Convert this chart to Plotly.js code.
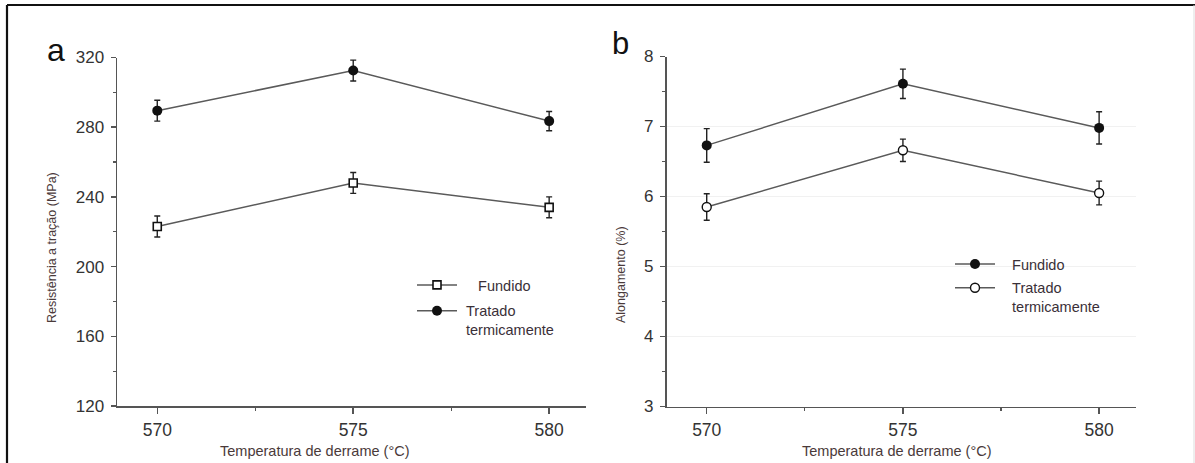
<!DOCTYPE html>
<html>
<head>
<meta charset="utf-8">
<script src="https://cdn.plot.ly/plotly-3.0.1.min.js"></script>
<style>
html,body{margin:0;padding:0;background:#fff;}
#chart{width:1195px;height:463px;}
</style>
</head>
<body>
<div id="chart"></div>
<script>
// ---- data ----
const temps = [570, 575, 580];
const tickVals = [570, 575, 580];
const tickText = ['570', '575', '580'];

// panel a: tensile strength (MPa)
const tensileFundido = [223, 248, 234];
const tensileFundidoErr = [6, 6, 6];
const tensileTratado = [289.5, 312.5, 283.5];
const tensileTratadoErr = [6, 6, 5.5];

// panel b: elongation (%)
const elongFundido = [6.73, 7.61, 6.98];
const elongFundidoErr = [0.24, 0.21, 0.23];
const elongTratado = [5.85, 6.66, 6.05];
const elongTratadoErr = [0.19, 0.16, 0.17];

const NB = '\u00a0';
const namesA = [NB + NB + NB + NB + 'Fundido', NB + 'Tratado<br>' + NB + 'termicamente'];
const namesB = [NB + NB + NB + 'Fundido', NB + NB + NB + 'Tratado<br>' + NB + NB + NB + 'termicamente'];
const xTitle = 'Temperatura de derrame (°C)';
const yTitleA = 'Resistência a tração (MPa)';
const yTitleB = 'Alongamento (%)';

// ---- styling ----
const W = 1195, H = 463;
const FONT = 'Liberation Sans, Arial, sans-serif';
const lineCol = '#5a5a5a';
const markCol = '#111111';
const tickCol = '#333333';
const titleCol = '#4a3a3a';

function errY(arr) {
  return {type: 'data', array: arr, visible: true, color: '#222', thickness: 1.4, width: 3};
}

const traces = [
  {x: temps, y: tensileFundido, error_y: errY(tensileFundidoErr), name: namesA[0],
   xaxis: 'x', yaxis: 'y', mode: 'lines+markers', legend: 'legend', legendgroup: 'a1',
   line: {color: lineCol, width: 1.5},
   marker: {symbol: 'square', size: 8, color: '#fff', line: {color: markCol, width: 1.6}}},
  {x: temps, y: tensileTratado, error_y: errY(tensileTratadoErr), name: namesA[1],
   xaxis: 'x', yaxis: 'y', mode: 'lines+markers', legend: 'legend', legendgroup: 'a2',
   line: {color: lineCol, width: 1.5},
   marker: {symbol: 'circle', size: 10, color: markCol}},
  {x: temps, y: elongFundido, error_y: errY(elongFundidoErr), name: namesB[0],
   xaxis: 'x2', yaxis: 'y2', mode: 'lines+markers', legend: 'legend2', legendgroup: 'b1',
   line: {color: lineCol, width: 1.5},
   marker: {symbol: 'circle', size: 10, color: markCol}},
  {x: temps, y: elongTratado, error_y: errY(elongTratadoErr), name: namesB[1],
   xaxis: 'x2', yaxis: 'y2', mode: 'lines+markers', legend: 'legend2', legendgroup: 'b2',
   line: {color: lineCol, width: 1.5},
   marker: {symbol: 'circle', size: 9, color: '#fff', line: {color: markCol, width: 1.4}}}
];

function px(x) { return x / W; }
function py(y) { return 1 - y / H; }

function xAxis(domain, anchor) {
  return {
    domain: domain, anchor: anchor, range: [568.98, 580.94],
    tickvals: tickVals, ticktext: tickText,
    ticks: 'outside', ticklen: 6, tickwidth: 1.5, tickcolor: '#555',
    showline: true, linecolor: '#555', linewidth: 1.8,
    showgrid: false, zeroline: false,
    tickfont: {family: FONT, size: 17.5, color: tickCol},
    ticklabelstandoff: 1,
    minor: {tickvals: [572.5, 577.5], ticks: 'outside', ticklen: 3, tickcolor: '#555', tickwidth: 1.2, showgrid: false},
    fixedrange: true
  };
}
function yAxis(domain, anchor, range, dtick, minorDtick, grid) {
  return {
    domain: domain, anchor: anchor, range: range, dtick: dtick,
    ticks: 'outside', ticklen: 5, tickwidth: 1.5, tickcolor: '#555',
    showline: true, linecolor: '#555', linewidth: 1.8,
    showgrid: grid, gridcolor: '#f1f1f1', gridwidth: 1, zeroline: false,
    tickfont: {family: FONT, size: 17, color: tickCol},
    ticklabelstandoff: 3,
    minor: {dtick: minorDtick, ticks: 'outside', ticklen: 3, tickcolor: '#555', tickwidth: 1.2, showgrid: false},
    fixedrange: true
  };
}

const legendBase = {
  xanchor: 'left', yanchor: 'top', bgcolor: 'rgba(0,0,0,0)', borderwidth: 0,
  font: {family: FONT, size: 14.5, color: '#3a3038'},
  itemwidth: 40, valign: 'top', traceorder: 'grouped'
};

const layout = {
  width: W, height: H,
  margin: {l: 0, r: 0, t: 0, b: 0},
  paper_bgcolor: '#fff', plot_bgcolor: '#fff',
  showlegend: true,
  xaxis: xAxis([px(117.3), px(586)], 'y'),
  yaxis: yAxis([py(406), py(57.5)], 'x', [120, 320], 40, 20, false),
  xaxis2: xAxis([px(666.7), px(1136)], 'y2'),
  yaxis2: yAxis([py(406.5), py(56.5)], 'x2', [3, 8], 1, 0.5, true),
  legend: Object.assign({}, legendBase, {x: px(412), y: py(269), tracegroupgap: 4}),
  legend2: Object.assign({}, legendBase, {x: px(950), y: py(248), tracegroupgap: 2}),
  annotations: [
    {text: 'a', x: px(56), y: py(62), xref: 'paper', yref: 'paper', xanchor: 'center', yanchor: 'bottom', yshift: -8, showarrow: false,
     font: {family: FONT, size: 32, color: '#111'}},
    {text: 'b', x: px(620), y: py(55), xref: 'paper', yref: 'paper', xanchor: 'center', yanchor: 'bottom', yshift: -8, showarrow: false,
     font: {family: FONT, size: 31, color: '#111'}},
    {text: yTitleA, x: px(52), y: py(247), xref: 'paper', yref: 'paper', xanchor: 'center', yanchor: 'middle', textangle: -90, showarrow: false,
     font: {family: FONT, size: 12.5, color: titleCol}},
    {text: yTitleB, x: px(621), y: py(275), xref: 'paper', yref: 'paper', xanchor: 'center', yanchor: 'middle', textangle: -90, showarrow: false,
     font: {family: FONT, size: 12.5, color: titleCol}},
    {text: xTitle, x: px(315), y: py(451), xref: 'paper', yref: 'paper', xanchor: 'center', yanchor: 'middle', showarrow: false,
     font: {family: FONT, size: 14.5, color: titleCol}},
    {text: xTitle, x: px(897), y: py(451), xref: 'paper', yref: 'paper', xanchor: 'center', yanchor: 'middle', showarrow: false,
     font: {family: FONT, size: 14.5, color: titleCol}}
  ],
  shapes: [
    {type: 'line', xref: 'paper', yref: 'paper', x0: px(7), x1: 1, y0: py(5), y1: py(5), line: {color: '#111', width: 2.2}},
    {type: 'line', xref: 'paper', yref: 'paper', x0: px(7), x1: px(7), y0: py(5), y1: 0, line: {color: '#111', width: 2.2}},
    {type: 'line', xref: 'paper', yref: 'paper', x0: px(1194), x1: px(1194), y0: py(5), y1: 0, line: {color: '#ddd', width: 1}}
  ]
};

Plotly.newPlot('chart', traces, layout, {staticPlot: true, displayModeBar: false});
</script>
</body>
</html>
